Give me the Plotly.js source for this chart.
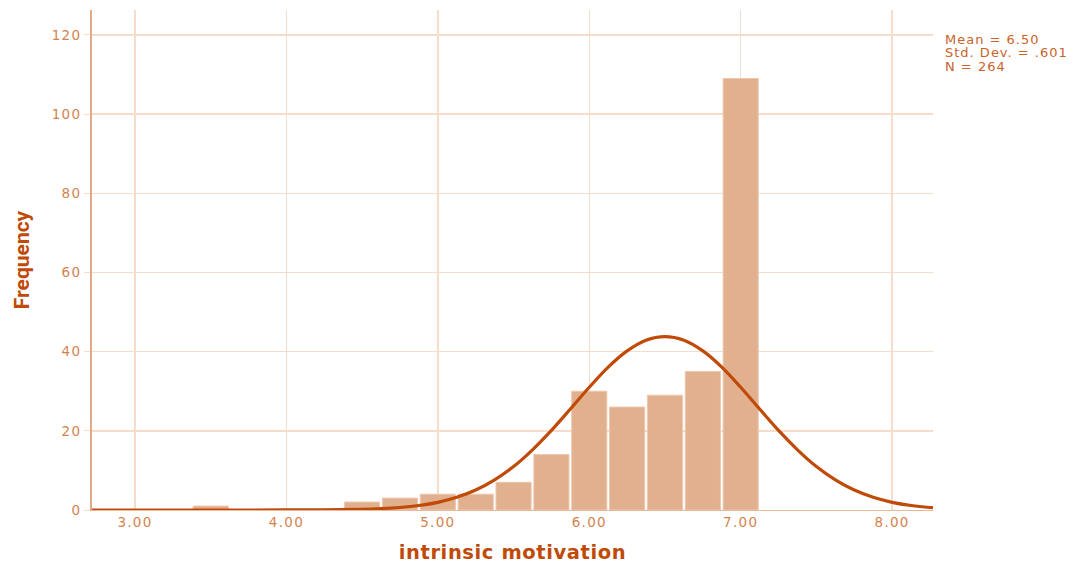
<!DOCTYPE html>
<html>
<head>
<meta charset="utf-8">
<script src="https://cdn.plot.ly/plotly-3.0.1.min.js"></script>
<style>
html,body{margin:0;padding:0;background:#fff;}
#chart{width:1074px;height:566px;}
#chart .xtick text, #chart .ytick text { letter-spacing: 1.3px; }
#chart .annotation-text { letter-spacing: 1px; }
#chart .xtitle { letter-spacing: 0.6px; }
</style>
</head>
<body>
<div id="chart"></div>
<script>
// Histogram bins (bin centres) and counts
const binCenters = [3.5, 4.5, 4.75, 5.0, 5.25, 5.5, 5.75, 6.0, 6.25, 6.5, 6.75, 7.0];
const binCounts  = [1, 2, 3, 4, 4, 7, 14, 30, 26, 29, 35, 109];

// Normal curve
const curveX = [2.716, 3.0, 3.5, 4.0, 4.25, 4.5, 4.625, 4.75, 4.875, 5.0, 5.125, 5.25, 5.375, 5.5, 5.625, 5.75, 5.875, 6.0, 6.125, 6.25, 6.375, 6.5, 6.625, 6.75, 6.875, 7.0, 7.125, 7.25, 7.375, 7.5, 7.625, 7.75, 7.875, 8.0, 8.125, 8.25, 8.27];
const curveY = [0, 0, 0, 0.01, 0.04, 0.17, 0.34, 0.63, 1.13, 1.94, 3.2, 5.04, 7.6, 10.97, 15.2, 20.1, 25.5, 31.0, 36.1, 40.2, 42.9, 43.8, 42.9, 40.2, 36.1, 31.0, 25.5, 20.1, 15.2, 10.97, 7.6, 5.04, 3.2, 1.94, 1.13, 0.63, 0.58];

const xTickVals = [3, 4, 5, 6, 7, 8];
const xTickText = ["3.00", "4.00", "5.00", "6.00", "7.00", "8.00"];
const yTickVals = [0, 20, 40, 60, 80, 100, 120];

const statsText = ["Mean = 6.50", "Std. Dev. = .601", "N = 264"];

const textColor = "#d3834f";
const darkOrange = "#c04a08";
const gridColor = "#f6dccb";

const traces = [
  {
    type: "bar",
    x: binCenters,
    y: binCounts,
    width: 0.232,
    marker: { color: "#e1b08f", line: { color: "#ecc7ad", width: 1 } },
    hoverinfo: "x+y"
  },
  {
    type: "scatter",
    mode: "lines",
    x: curveX,
    y: curveY,
    line: { color: darkOrange, width: 3.2, shape: "spline", smoothing: 1 },
    hoverinfo: "skip"
  }
];

const statsY = [0.942, 0.915, 0.888];

const layout = {
  width: 1074,
  height: 566,
  margin: { l: 92, r: 141, t: 10, b: 56 },
  paper_bgcolor: "#ffffff",
  plot_bgcolor: "#ffffff",
  showlegend: false,
  bargap: 0,
  xaxis: {
    range: [2.716, 8.27],
    tickvals: xTickVals,
    ticktext: xTickText,
    showgrid: true,
    gridcolor: gridColor,
    gridwidth: 1.5,
    zeroline: false,
    showline: true,
    linecolor: "#e8b898",
    linewidth: 1,
    ticks: "",
    tickfont: { family: "DejaVu Sans", size: 13.5, color: textColor },
    title: { text: "intrinsic motivation", standoff: 16, font: { family: "DejaVu Sans", size: 19.5, color: darkOrange, weight: "bold" } }
  },
  yaxis: {
    range: [0, 126.3],
    tickvals: yTickVals,
    showgrid: true,
    gridcolor: gridColor,
    gridwidth: 1.5,
    zeroline: false,
    showline: true,
    linecolor: "#e3a987",
    linewidth: 2,
    ticks: "outside",
    ticklen: 6,
    tickcolor: gridColor,
    tickfont: { family: "DejaVu Sans", size: 13.5, color: textColor },
    title: { text: "Frequency", standoff: 20, font: { family: "Liberation Sans Narrow, Roboto, sans-serif", size: 21, color: darkOrange, weight: "bold" } }
  },
  annotations: statsText.map((t, i) => ({
    xref: "paper", yref: "paper",
    x: 1.0115, y: statsY[i],
    xanchor: "left", yanchor: "middle",
    align: "left",
    showarrow: false,
    text: t,
    font: { family: "DejaVu Sans", size: 13, color: "#c8642a" }
  }))
};

Plotly.newPlot("chart", traces, layout, { displayModeBar: false, staticPlot: true });
</script>
</body>
</html>
